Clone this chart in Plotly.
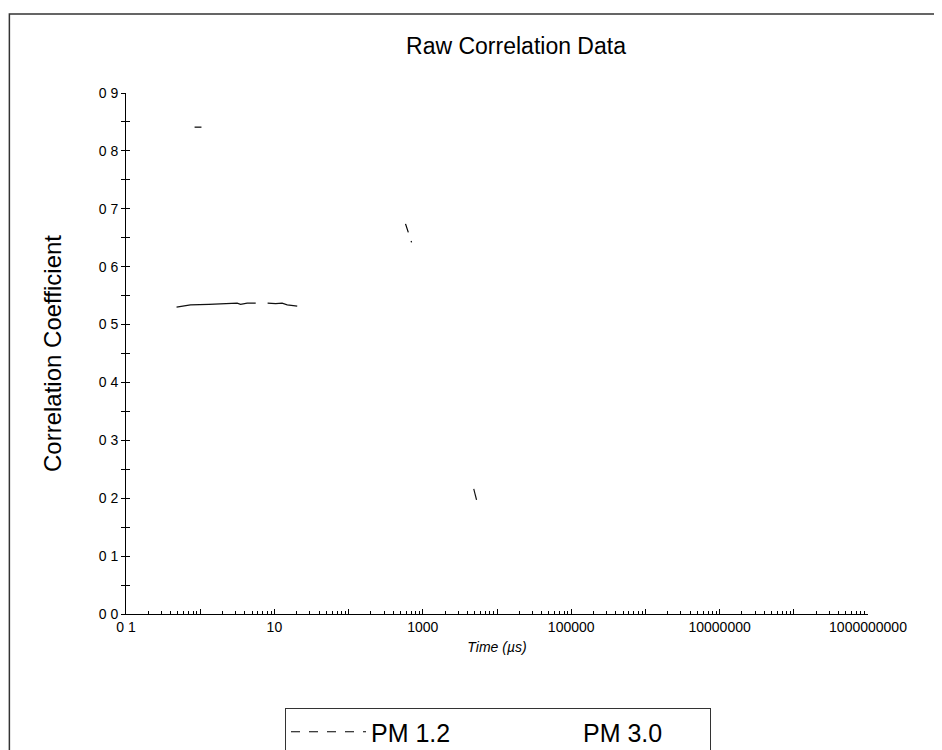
import plotly.graph_objects as go

# ---- text ----
chart_title = "Raw Correlation Data"
x_title = "Time (µs)"
y_title = "Correlation Coefficient"
series_names = ["PM 1.2", "PM 3.0"]

# ---- data (visible fragments; None = gap) ----
pm12_time = [0.84, 1.04, None, 585, 705]
pm12_corr = [0.841, 0.841, None, 0.674, 0.642]

pm30_time = [0.48, 0.74, 1.31, 2.31, 3.15, 3.5, 4.3, 5.6, None,
             8.1, 10.4, 12.7, 14.9, 20.3, None, 4860, 5300]
pm30_corr = [0.530, 0.534, 0.535, 0.537, 0.537, 0.535, 0.537, 0.537, None,
             0.537, 0.536, 0.537, 0.534, 0.532, None, 0.216, 0.197]

# ---- ticks ----
x_tick_vals = [0.1, 1, 10, 100, 1e3, 1e4, 1e5, 1e6, 1e7, 1e8, 1e9]
x_tick_text = ["0 1", "", "10", "", "1000", "", "100000", "", "10000000", "", "1000000000"]
y_tick_vals = [0.0, 0.1, 0.2, 0.3, 0.4, 0.5, 0.6, 0.7, 0.8, 0.9]
y_tick_text = ["0 0", "0 1", "0 2", "0 3", "0 4", "0 5", "0 6", "0 7", "0 8", "0 9"]

x_minor_vals = [m * d for d in x_tick_vals[:-1] for m in range(2, 10)]

FONT = "Liberation Sans, Arial, sans-serif"
W, H = 942, 750
L, R, T, B = 117.5, 82, 85, 144
PW, PH = W - L - R, H - T - B

fig = go.Figure()
fig.add_trace(go.Scatter(
    x=pm12_time, y=pm12_corr, name=series_names[0], mode="lines",
    line=dict(color="black", width=1.2, dash="dash"), connectgaps=False,
))
fig.add_trace(go.Scatter(
    x=pm30_time, y=pm30_corr, name=series_names[1], mode="lines",
    line=dict(color="#111111", width=1.2), connectgaps=False, showlegend=False,
))
# legend entry for PM 3.0 (its symbol is not visible in the reference)
fig.add_trace(go.Scatter(
    x=[None], y=[None], name=series_names[1], mode="lines", yaxis="y2",
    line=dict(color="rgba(0,0,0,0)", width=1),
))

fig.update_layout(
    template="none",
    width=W, height=H,
    paper_bgcolor="white", plot_bgcolor="white",
    margin=dict(l=L, r=R, t=T, b=B, autoexpand=False),
    font=dict(family=FONT, color="black"),
    title=dict(text=chart_title, x=508 / W, xanchor="center",
               y=1 - 38 / H, yanchor="middle",
               font=dict(size=23, family=FONT, color="black")),
    showlegend=True,
    legend=dict(
        orientation="h", xref="container", yref="container",
        x=277 / W, xanchor="left", y=(H - 700) / H, yanchor="top",
        bordercolor="#333333", borderwidth=1, bgcolor="white",
        font=dict(size=25, family=FONT, color="black"),
        itemwidth=75, entrywidth=122, traceorder="normal",
    ),
    xaxis=dict(
        type="log", range=[-1, 9], automargin=False,
        tickmode="array", tickvals=x_tick_vals, ticktext=x_tick_text,
        ticks="inside", ticklen=5, tickcolor="black", tickwidth=1,
        minor=dict(tickmode="array", tickvals=x_minor_vals, ticks="inside",
                   ticklen=3, tickcolor="black", showgrid=False),
        showline=True, linecolor="black", linewidth=1, mirror=False,
        showgrid=False, zeroline=False,
        tickfont=dict(size=14, family=FONT),
        title=dict(text="<i>" + x_title + "</i>", font=dict(size=14, family=FONT), standoff=8),
    ),
    yaxis=dict(
        range=[0, 0.9], automargin=False,
        tickmode="array", tickvals=y_tick_vals, ticktext=y_tick_text,
        ticks="outside", ticklen=4, tickcolor="black", tickwidth=1,
        minor=dict(dtick=0.05, ticks="outside", ticklen=4, tickcolor="black", showgrid=False),
        showline=True, linecolor="black", linewidth=1,
        showgrid=False, zeroline=False,
        tickfont=dict(size=14, family=FONT),
        title=dict(text=y_title, font=dict(size=24, family=FONT), standoff=30),
    ),
    yaxis2=dict(
        overlaying="y", side="left", range=[0, 0.9], automargin=False,
        tickmode="array", tickvals=y_tick_vals, showticklabels=False,
        ticks="inside", ticklen=4, tickcolor="black", tickwidth=1,
        minor=dict(dtick=0.05, ticks="inside", ticklen=4, tickcolor="black", showgrid=False),
        showline=False, showgrid=False, zeroline=False,
    ),
)

# outer frame of the scanned figure
fig.add_shape(type="rect", xref="paper", yref="paper",
              x0=(0.8 - L) / PW, x1=(929 - L) / PW,
              y0=-0.4, y1=(H - B - 6) / PH,
              line=dict(color="#333333", width=1.5), fillcolor="rgba(0,0,0,0)", layer="below")

fig.write_html("out.html")
